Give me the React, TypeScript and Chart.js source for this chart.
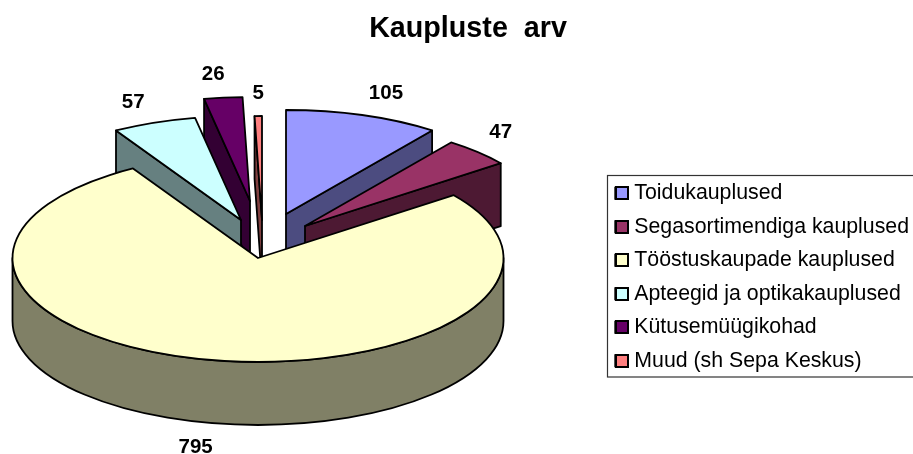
import React, { useEffect, useRef } from "react";
import { Chart, registerables } from "chart.js";

Chart.register(...registerables);

const titleText = "Kaupluste  arv";
const categories = [
  "Toidukauplused",
  "Segasortimendiga kauplused",
  "Tööstuskaupade kauplused",
  "Apteegid ja optikakauplused",
  "Kütusemüügikohad",
  "Muud (sh Sepa Keskus)",
];
const storeCounts = [105, 47, 795, 57, 26, 5];
const topColors = ["#9999FF", "#993366", "#FFFFCC", "#CCFFFF", "#660066", "#FF8080"];
const wallColors = ["#4C4C80", "#4D1933", "#808066", "#668080", "#330033", "#804040"];

// 3D projection layout
const PIE_X = 258;
const PIE_Y = 258;
const RADIUS_X = 245.5;
const RADIUS_Y = 104;
const DEPTH = 63;
const explodeShift = [[28, -44], [47, -32], [0, 0], [-17, -38], [-8, -57], [4, -38]];
const labelNudge = [[23, -23], [23, -21], [-15, 86], [-21, -22], [-10, -25], [0, -24]];
const paintOrder = [5, 4, 3, 0, 1, 2];

const pie3d = {
  id: "pie3d",
  beforeDatasetsDraw(chart: any) {
    const ctx = chart.ctx;
    const arcs = chart.getDatasetMeta(0).data;
    const ky = RADIUS_Y / RADIUS_X;
    const outline = () => {
      ctx.strokeStyle = "#000";
      ctx.lineWidth = 1.8;
      ctx.lineJoin = "round";
      ctx.stroke();
    };
    const rim = (cx: number, cy: number, t: number): [number, number] => [
      cx + RADIUS_X * Math.cos(t),
      cy + RADIUS_Y * Math.sin(t),
    ];
    for (const i of paintOrder) {
      const el = arcs[i];
      const cx = PIE_X + explodeShift[i][0];
      const cy = PIE_Y + explodeShift[i][1];
      const a = el.startAngle;
      const b = el.endAngle;
      ctx.save();
      ctx.fillStyle = wallColors[i];
      // only the radial walls that face the viewer
      const walls: number[] = [];
      if (Math.cos(a) < 0) walls.push(a);
      if (Math.cos(b) > 0) walls.push(b);
      for (const t of walls) {
        const [px, py] = rim(cx, cy, t);
        ctx.beginPath();
        ctx.moveTo(cx, cy);
        ctx.lineTo(px, py);
        ctx.lineTo(px, py + DEPTH);
        ctx.lineTo(cx, cy + DEPTH);
        ctx.closePath();
        ctx.fill();
        outline();
      }
      const f0 = Math.max(a, 0);
      const f1 = Math.min(b, Math.PI);
      if (f1 > f0) {
        ctx.beginPath();
        ctx.ellipse(cx, cy, RADIUS_X, RADIUS_Y, 0, f0, f1);
        ctx.ellipse(cx, cy + DEPTH, RADIUS_X, RADIUS_Y, 0, f1, f0, true);
        ctx.closePath();
        ctx.fill();
        outline();
      }
      ctx.save();
      ctx.translate(cx, cy);
      ctx.scale(1, ky);
      ctx.translate(-el.x, -el.y);
      el.draw(ctx);
      ctx.restore();
      ctx.beginPath();
      ctx.moveTo(cx, cy);
      ctx.ellipse(cx, cy, RADIUS_X, RADIUS_Y, 0, a, b);
      ctx.closePath();
      outline();
      ctx.restore();
    }
    ctx.save();
    ctx.fillStyle = "#000";
    ctx.font = "bold 20.5px 'Liberation Sans'";
    ctx.textAlign = "center";
    ctx.textBaseline = "middle";
    arcs.forEach((el: any, i: number) => {
      const mid = (el.startAngle + el.endAngle) / 2;
      const [px, py] = rim(PIE_X + explodeShift[i][0], PIE_Y + explodeShift[i][1], mid);
      ctx.fillText(String(storeCounts[i]), px + labelNudge[i][0], py + labelNudge[i][1] + 1.5);
    });
    ctx.restore();
    return false;
  },
  afterDraw(chart: any) {
    const ctx = chart.ctx;
    const boxes = chart.legend.legendHitBoxes;
    ctx.save();
    // legend frame, running off the right of the page as in the reference
    const frameLeft = Math.round(boxes[0].left) - 8;
    ctx.strokeStyle = "#333";
    ctx.lineWidth = 1.2;
    ctx.strokeRect(frameLeft + 0.5, 175.5, chart.width, 201.5);
    // larger legend swatches
    boxes.forEach((b: any, i: number) => {
      const y = Math.round(b.top + b.height / 2 - 6);
      const x = Math.round(b.left) + 1;
      ctx.fillStyle = topColors[i];
      ctx.strokeStyle = "#000";
      ctx.lineWidth = 2;
      ctx.fillRect(x, y, 12, 12);
      ctx.strokeRect(x, y, 12, 12);
    });
    ctx.restore();
  },
};

export default function App() {
  const ref = useRef<HTMLCanvasElement>(null);
  useEffect(() => {
    const chart = new Chart(ref.current!, {
      type: "pie",
      data: {
        labels: categories,
        datasets: [
          {
            data: storeCounts,
            backgroundColor: topColors,
            borderWidth: 0,
            radius: RADIUS_X,
          } as any,
        ],
      },
      options: {
        responsive: false,
        animation: false,
        layout: { padding: { left: 17, right: -6, top: 0, bottom: 0 } },
        plugins: {
          tooltip: { enabled: false },
          title: {
            display: true,
            text: titleText,
            color: "#000",
            font: { family: "'Liberation Sans'", size: 28.7, weight: "bold" },
            padding: { top: 12, bottom: 53.6 },
          },
          legend: {
            position: "right",
            fullSize: false,
            labels: {
              color: "#000",
              font: { family: "'Liberation Sans'", size: 21.3 },
              boxWidth: 8.35,
              boxHeight: 11,
              padding: 12.2,
              generateLabels(c: any) {
                return (Chart.overrides.pie.plugins.legend.labels as any)
                  .generateLabels(c)
                  .map((item: any) => ({ ...item, strokeStyle: "#000", lineWidth: 2 }));
              },
            },
          },
        },
      } as any,
      plugins: [pie3d],
    });
    return () => chart.destroy();
  }, []);
  return (
    <div style={{ position: "fixed", left: 0, top: 0, width: 913, height: 454 }}>
      <canvas ref={ref} width={913} height={454} style={{ display: "block" }} />
    </div>
  );
}
